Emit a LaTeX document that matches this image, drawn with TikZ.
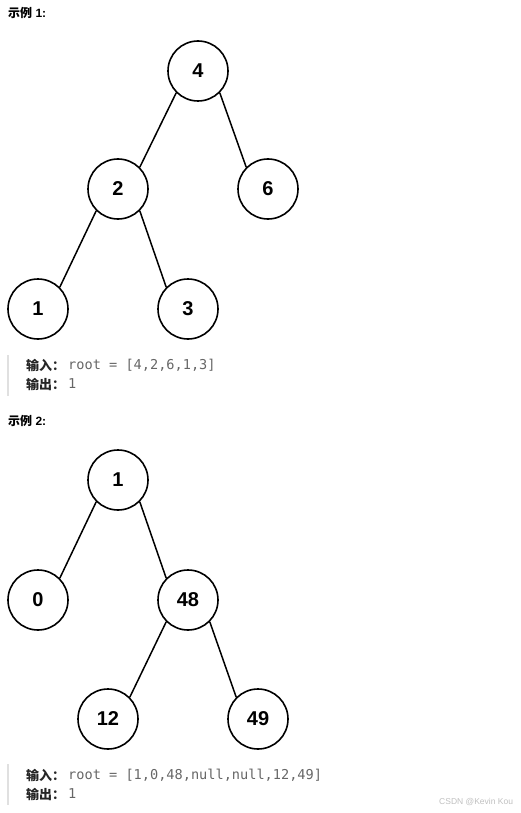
\documentclass[tikz,border=0pt]{standalone}
\usepackage{fontspec}
\setmainfont{Liberation Sans}
\setmonofont{DejaVu Sans Mono}
\newfontfamily\cjk{Noto Sans CJK SC}
\begin{document}
\begin{tikzpicture}[x=1pt,y=-1pt,
  treenode/.style={circle,draw,line width=1.6pt,minimum size=60pt,inner sep=0pt,
    font=\fontsize{20}{24}\selectfont\bfseries},
  edge/.style={line width=1.5pt},
  heading/.style={anchor=west,inner sep=0pt,font=\fontsize{12}{14}\selectfont\bfseries},
  label/.style={anchor=west,inner sep=0pt,font=\cjk\fontsize{13}{15}\selectfont\bfseries,text=black!85},
  code/.style={anchor=west,inner sep=0pt,font=\ttfamily\fontsize{13.6}{15}\selectfont,text=black!60},
  quotebar/.style={line width=2pt,draw=black!12}]
\useasboundingbox (0,0) rectangle (520,813);
% Example 1
\node[heading] (h1) at (8,13) {{\cjk 示例} 1:};
\node[treenode] (a4) at (198,71) {4};
\node[treenode] (a2) at (118,189) {2};
\node[treenode] (a6) at (268,189) {6};
\node[treenode] (a1) at (38,309) {1};
\node[treenode] (a3) at (188,309) {3};
\draw[edge] (a4.225) -- (a2.45);
\draw[edge] (a4.-45) -- (a6.135);
\draw[edge] (a2.225) -- (a1.45);
\draw[edge] (a2.-45) -- (a3.135);
\coordinate (b1t) at (8,355);
\coordinate (b1b) at (8,396);
\draw[quotebar] (b1t) -- (b1b);
\node[label] (in1) at (26,365) {输入：};
\node[code] (c1) at (68,365) {root = [4,2,6,1,3]};
\node[label] (out1) at (26,384) {输出：};
\node[code] (o1) at (68,384) {1};
% Example 2
\node[heading] (h2) at (8,421) {{\cjk 示例} 2:};
\node[treenode] (b1) at (118,480) {1};
\node[treenode] (b0) at (38,600) {0};
\node[treenode] (b48) at (188,600) {48};
\node[treenode] (b12) at (108,719) {12};
\node[treenode] (b49) at (258,719) {49};
\draw[edge] (b1.225) -- (b0.45);
\draw[edge] (b1.-45) -- (b48.135);
\draw[edge] (b48.225) -- (b12.45);
\draw[edge] (b48.-45) -- (b49.135);
\coordinate (b2t) at (8,764);
\coordinate (b2b) at (8,805);
\draw[quotebar] (b2t) -- (b2b);
\node[label] (in2) at (26,775) {输入：};
\node[code] (c2) at (68,775) {root = [1,0,48,null,null,12,49]};
\node[label] (out2) at (26,794) {输出：};
\node[code] (o2) at (68,794) {1};
\node[anchor=west,inner sep=0pt,font=\fontsize{8.5}{10}\selectfont,text=black!25] (wm) at (439,802) {CSDN @Kevin Kou};
\end{tikzpicture}
\end{document}
